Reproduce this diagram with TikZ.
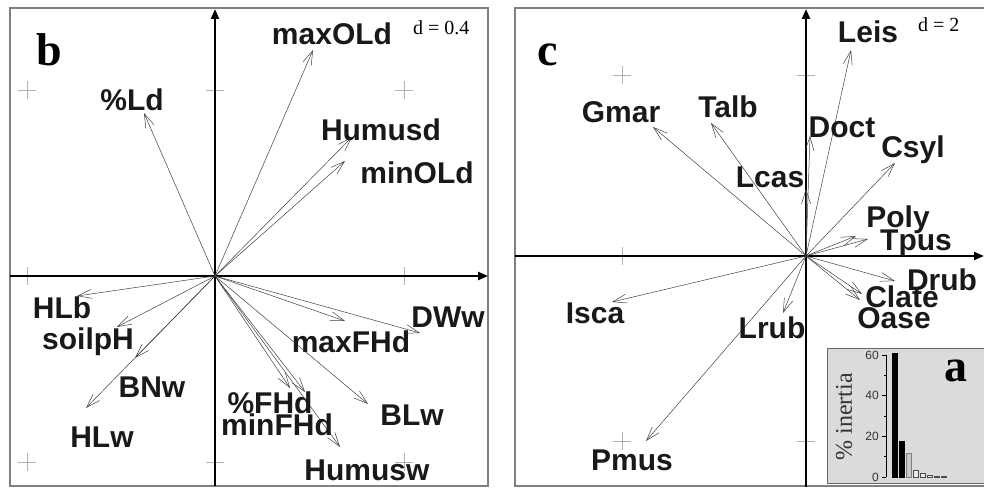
\documentclass[tikz,border=0pt]{standalone}
\usepackage{fontspec}
\setmainfont{Liberation Serif}
\newfontfamily\arialfont{Liberation Sans}
\usetikzlibrary{arrows.meta}
\colorlet{ColorKhung}{black!50}
\colorlet{ColorLuoi}{black!30}
\colorlet{ColorNen}{black!14}

\begin{document}
\begin{tikzpicture}[x=1pt,y=-1pt,
    truc/.style={line width=2.4pt,-{Triangle[length=10pt,width=8pt]}},
    vecto/.style={line width=0.5pt,black!75,-{Straight Barb[length=14pt,width=9pt]}},
    nhan/.style={font=\arialfont\bfseries\fontsize{30}{30}\selectfont,anchor=base,inner sep=0pt,text=black!90},
    chu/.style={font=\bfseries\fontsize{46}{46}\selectfont,anchor=base,inner sep=0pt},
    tile/.style={font=\fontsize{20}{20}\selectfont,anchor=base west,inner sep=0pt},
    luoi/.style={ColorLuoi,line width=0.7pt},
    cot/.style={line width=0.6pt}]
    \useasboundingbox (0,0) rectangle (984,487);
    %Khung
    \draw[ColorKhung,line width=1.2pt] (10,8) rectangle (488,486);
    \draw[ColorKhung,line width=1.2pt] (990,8)--(515,8)--(515,486)--(990,486);
    %Lưới
    \foreach \x/\y in {27/90,215/90,404/90,27/276,404/276,27/462,215/462,404/462,
                       622/75,806/75,622/256,622/441,806/441}
        \draw[luoi] (\x-9,\y)--(\x+9,\y) (\x,\y-9)--(\x,\y+9);
    %Trục b
    \coordinate (Ob) at (215,276);
    \coordinate (bW) at (10,276);
    \coordinate (bE) at (488,276);
    \coordinate (bS) at (215,486);
    \coordinate (bN) at (215,9);
    \draw[truc] (bW)--(bE);
    \draw[truc] (bS)--(bN);
    %Trục c
    \coordinate (Oc) at (806,256);
    \coordinate (cW) at (515,256);
    \coordinate (cE) at (984,256);
    \coordinate (cS) at (806,487);
    \coordinate (cN) at (806,9);
    \draw[truc] (cW)--(cE);
    \draw[truc] (cS)--(cN);
    %Vectơ b
    \coordinate (tLd) at (144,113);
    \coordinate (tmaxOLd) at (313,50);
    \coordinate (tHumusd) at (352,137);
    \coordinate (tminOLd) at (345,161);
    \coordinate (tHLb) at (77,296);
    \coordinate (tsoilpH) at (117,327);
    \coordinate (tBNw) at (135,358);
    \coordinate (tHLw) at (86,408);
    \coordinate (tmaxFHd) at (345,321);
    \coordinate (tDWw) at (420,333);
    \coordinate (tBLw) at (368,404);
    \coordinate (tFHd) at (290,388);
    \coordinate (tminFHd) at (305,392);
    \coordinate (tHumusw) at (340,447);
    \foreach \t in {tLd,tmaxOLd,tHumusd,tminOLd,tHLb,tsoilpH,tBNw,tHLw,
                    tmaxFHd,tDWw,tBLw,tFHd,tminFHd,tHumusw}
        \draw[vecto] (Ob)--(\t);
    %Vectơ c
    \coordinate (tLeis) at (851,50);
    \coordinate (tGmar) at (653,127);
    \coordinate (tTalb) at (711,123);
    \coordinate (tDoct) at (810,136);
    \coordinate (tLcas) at (806,189);
    \coordinate (tCsyl) at (895,163);
    \coordinate (tPoly) at (856,236);
    \coordinate (tTpus) at (868,239);
    \coordinate (tDrub) at (895,281);
    \coordinate (tClate) at (862,294);
    \coordinate (tOase) at (860,300);
    \coordinate (tIsca) at (612,302);
    \coordinate (tLrub) at (783,313);
    \coordinate (tPmus) at (646,441);
    \foreach \t in {tLeis,tGmar,tTalb,tDoct,tLcas,tCsyl,tPoly,tTpus,
                    tDrub,tClate,tOase,tIsca,tLrub,tPmus}
        \draw[vecto] (Oc)--(\t);
    %Nhãn b
    \node[chu] (pb) at (49,65) {b};
    \node[tile] (db) at (413,35) {d = 0.4};
    \node[nhan] (lLd) at (132,110) {\%Ld};
    \node[nhan] (lmaxOLd) at (332,45) {maxOLd};
    \node[nhan] (lHumusd) at (381,140) {Humusd};
    \node[nhan] (lminOLd) at (417,183) {minOLd};
    \node[nhan] (lHLb) at (62,318) {HLb};
    \node[nhan] (lsoilpH) at (88,349) {soilpH};
    \node[nhan] (lBNw) at (152,397) {BNw};
    \node[nhan] (lHLw) at (102,447) {HLw};
    \node[nhan] (lmaxFHd) at (351,352) {maxFHd};
    \node[nhan] (lDWw) at (448,327) {DWw};
    \node[nhan] (lFHd) at (270,413) {\%FHd};
    \node[nhan] (lminFHd) at (277,435) {minFHd};
    \node[nhan] (lBLw) at (412,425) {BLw};
    \node[nhan] (lHumusw) at (367,480) {Humusw};
    %Nhãn c
    \node[chu] (pc) at (548,65) {c};
    \node[tile] (dc) at (918,32) {d = 2};
    \node[nhan] (lLeis) at (868,42) {Leis};
    \node[nhan] (lGmar) at (621,122) {Gmar};
    \node[nhan] (lTalb) at (728,117) {Talb};
    \node[nhan] (lDoct) at (842,137) {Doct};
    \node[nhan] (lCsyl) at (913,157) {Csyl};
    \node[nhan] (lLcas) at (770,187) {Lcas};
    \node[nhan] (lPoly) at (898,227) {Poly};
    \node[nhan] (lTpus) at (916,250) {Tpus};
    \node[nhan] (lDrub) at (942,290) {Drub};
    \node[nhan] (lClate) at (902,307) {Clate};
    \node[nhan] (lOase) at (894,328) {Oase};
    \node[nhan] (lIsca) at (595,323) {Isca};
    \node[nhan] (lLrub) at (772,338) {Lrub};
    \node[nhan] (lPmus) at (632,470) {Pmus};
    %Biểu đồ a
    \filldraw[fill=ColorNen,draw=black!60,line width=0.8pt] (827,348) rectangle (992,483);
    \draw[cot] (886,355)--(886,477);
    \foreach \v in {0,20,40,60}{
        \draw[cot] (886,477-2.033*\v)--++(-4,0);
        \node[font=\arialfont\fontsize{12}{12}\selectfont,text=black!80,anchor=east,inner sep=0pt] (s\v) at (879,477-2.033*\v) {\v};
    }
    \foreach \v in {10,30,50}
        \draw[cot] (886,477-2.033*\v)--++(-2.5,0);
    \foreach \h/\f/\d [count=\i] in {61/black/black,17.5/black/black,11.5/black!22/black!50,
            3.2/black!8/black!70,1.6/black!8/black!70,1/black!8/black!70,0.5/black!70/black!70,0.3/black!70/black!70}
        \filldraw[cot,fill=\f,draw=\d] ({885+7*\i},477) rectangle ++(5.5,-2.033*\h);
    \node[rotate=90,font=\fontsize{24}{24}\selectfont,text=black!80,inner sep=0pt] (lInertia) at (844,417) {\% inertia};
    \node[chu] (pa) at (956,381) {a};
\end{tikzpicture}
\end{document}
